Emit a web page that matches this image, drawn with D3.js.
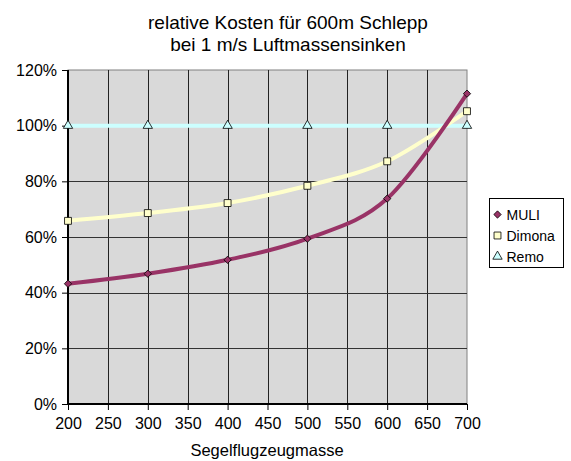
<!DOCTYPE html>
<html>
<head>
<meta charset="utf-8">
<script src="https://cdn.jsdelivr.net/npm/d3@7"></script>
<style>
  body { margin: 0; background: #fff; }
  svg { font-family: "Liberation Sans", Arial, sans-serif; }
</style>
</head>
<body>
<div id="chart"></div>
<script>
// Segelflugzeugmasse (x) and relative costs (fraction of 1)
const masses = [200, 300, 400, 500, 600, 700];
const muli = [0.432, 0.468, 0.518, 0.594, 0.738, 1.115];
const dimona = [0.658, 0.686, 0.722, 0.784, 0.872, 1.052];
const remo = [1.0, 1.0, 1.0, 1.0, 1.0, 1.0];
const xTicks = [200, 250, 300, 350, 400, 450, 500, 550, 600, 650, 700];
const yTicks = [0, 0.2, 0.4, 0.6, 0.8, 1.0, 1.2];
const titleLines = ["relative Kosten für 600m Schlepp", "bei 1 m/s Luftmassensinken"];

const series = [
  { name: "MULI", values: muli, color: "#993366", marker: "diamond" },
  { name: "Dimona", values: dimona, color: "#FFFFCC", marker: "square" },
  { name: "Remo", values: remo, color: "#CCFFFF", marker: "triangle" }
];

const width = 571, height = 461;
const margin = { left: 68, right: 104, top: 70, bottom: 57 };

const svg = d3.select("#chart").append("svg")
  .attr("width", width)
  .attr("height", height);

const x = d3.scaleLinear().domain([200, 700]).range([margin.left, width - margin.right]);
const y = d3.scaleLinear().domain([0, 1.2]).range([height - margin.bottom, margin.top]);

// plot background
svg.append("rect")
  .attr("x", x(200)).attr("y", y(1.2))
  .attr("width", x(700) - x(200)).attr("height", y(0) - y(1.2))
  .attr("fill", "#D9D9D9")
  .attr("stroke", "#808080");

// gridlines
svg.append("g").selectAll("line")
  .data(xTicks.slice(1, -1))
  .enter().append("line")
  .attr("x1", d => Math.round(x(d)) + 0.5).attr("x2", d => Math.round(x(d)) + 0.5)
  .attr("y1", y(0)).attr("y2", y(1.2))
  .attr("stroke", "#222").attr("stroke-width", 1);

svg.append("g").selectAll("line")
  .data(yTicks.slice(1, -1))
  .enter().append("line")
  .attr("x1", x(200)).attr("x2", x(700))
  .attr("y1", d => Math.round(y(d)) + 0.5).attr("y2", d => Math.round(y(d)) + 0.5)
  .attr("stroke", "#333").attr("stroke-width", 1);

// axes
const yAxis = svg.append("g")
  .attr("transform", `translate(${x(200)},0)`)
  .call(d3.axisLeft(y).tickValues(yTicks).tickFormat(d3.format(".0%")).tickSize(6).tickPadding(5));
const xAxis = svg.append("g")
  .attr("transform", `translate(0,${y(0)})`)
  .call(d3.axisBottom(x).tickValues(xTicks).tickFormat(d3.format("d")).tickSize(6).tickPadding(8));

[yAxis, xAxis].forEach(a => {
  a.select(".domain").attr("stroke", "#000").attr("stroke-width", 2);
  a.selectAll(".tick line").attr("stroke", "#000");
  a.selectAll("text")
    .style("font-family", "'Liberation Sans', Arial, sans-serif")
    .style("font-size", "16px")
    .attr("fill", "#000");
});
xAxis.select(".domain").attr("d", `M${x(200)},0H${x(700)}`);
yAxis.select(".domain").attr("d", `M0,${y(0)}V${y(1.2)}`);

// lines
const line = d3.line()
  .x((d, i) => x(masses[i]))
  .y(d => y(d))
  .curve(d3.curveCardinal.tension(0));

// draw Remo first, then Dimona, then MULI on top
const order = [2, 1, 0];
order.forEach(k => {
  const s = series[k];
  svg.append("path")
    .datum(s.values)
    .attr("d", line)
    .attr("fill", "none")
    .attr("stroke", s.color)
    .attr("stroke-width", 4);
});

function markerPath(type, size) {
  if (type === "diamond") return d3.symbol().type(d3.symbolDiamond2).size(size)();
  if (type === "square") return d3.symbol().type(d3.symbolSquare).size(size)();
  return d3.symbol().type(d3.symbolTriangle).size(size)();
}
const markerSize = { diamond: 34, square: 48, triangle: 38 };

order.forEach(k => {
  const s = series[k];
  svg.append("g").selectAll("path")
    .data(s.values)
    .enter().append("path")
    .attr("d", markerPath(s.marker, markerSize[s.marker]))
    .attr("transform", (d, i) => `translate(${x(masses[i])},${y(d)})`)
    .attr("fill", s.color)
    .attr("stroke", "#000")
    .attr("stroke-width", 0.8);
});

// title
svg.append("g").selectAll("text")
  .data(titleLines)
  .enter().append("text")
  .attr("x", 288)
  .attr("y", (d, i) => 29 + i * 22)
  .attr("text-anchor", "middle")
  .style("font-size", "19px")
  .text(d => d);

// x axis title
svg.append("text")
  .attr("x", 267).attr("y", 456)
  .attr("text-anchor", "middle")
  .style("font-size", "16.5px")
  .text("Segelflugzeugmasse");

// legend
const legend = svg.append("g").attr("transform", "translate(489.5,198.5)");
legend.append("rect")
  .attr("width", 74).attr("height", 69)
  .attr("fill", "#fff").attr("stroke", "#000");
series.forEach((s, i) => {
  const g = legend.append("g").attr("transform", `translate(0,${16 + i * 21})`);
  g.append("path")
    .attr("d", markerPath(s.marker, markerSize[s.marker]))
    .attr("transform", "translate(8,0)")
    .attr("fill", s.color).attr("stroke", "#000").attr("stroke-width", 0.8);
  g.append("text")
    .attr("x", 17).attr("y", 5)
    .style("font-size", "14px")
    .text(s.name);
});
</script>
</body>
</html>
